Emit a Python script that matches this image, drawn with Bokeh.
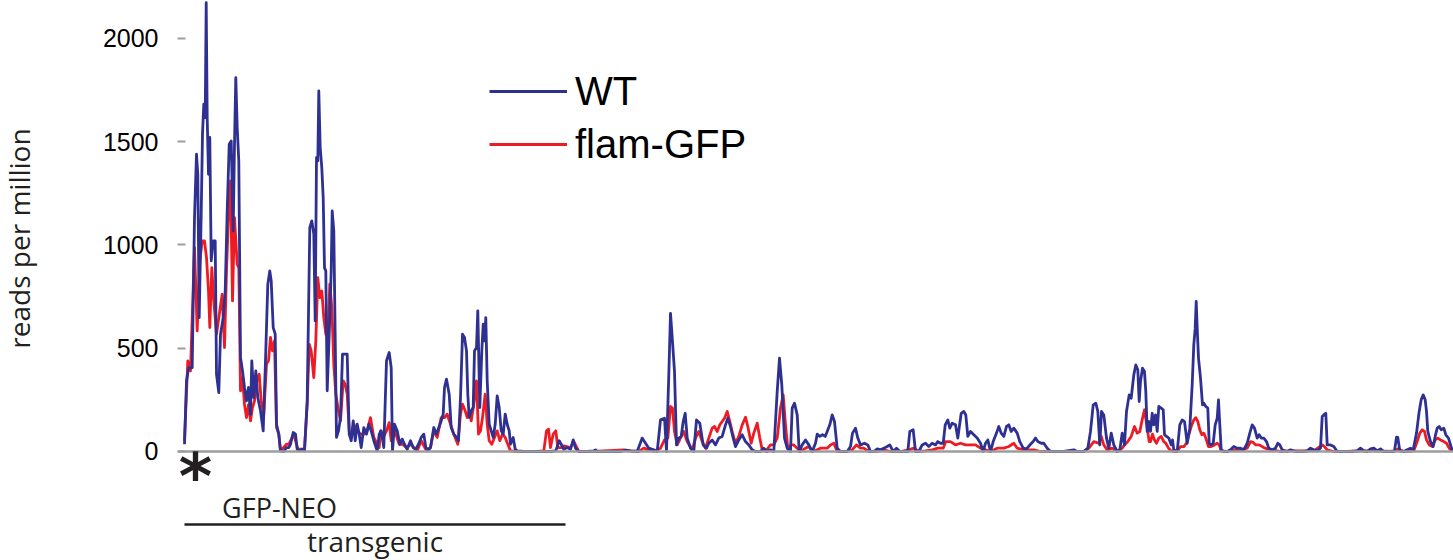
import math
from bokeh.plotting import figure
from bokeh.layouts import row
from bokeh.models import Range1d, FixedTicker, Span, Label, Legend, LegendItem, ColumnDataSource
from bokeh.embed import file_html
from bokeh.resources import INLINE

# ---------------- data ----------------
# position along the locus (bins) and reads per million
wt_pos = [
    0, 2, 4.3, 7.7, 10, 12, 13.3, 14.7, 16.7, 18,
    19.3, 20.7, 21.7, 22.7, 24, 25.3, 26.7, 28.7, 30.7, 32,
    34.3, 36, 38.7, 40.7, 42.7, 44.7, 46.7, 48.7, 50, 51.3,
    52.7, 54.3, 56, 58, 60, 62, 64, 66, 67.3, 69.3,
    71.3, 73.3, 76, 78.7, 81, 83.3, 85.3, 86.7, 88.7, 90.7,
    92, 94.3, 96, 99.3, 102, 104.3, 106, 108.7, 111, 112.7,
    115.3, 117.7, 120, 122.7, 124, 125.3, 127.3, 129.3, 130.7, 132,
    133.3, 134.3, 135.7, 137.3, 138.7, 140, 141.3, 142.7, 144.7, 146.7,
    147.7, 149.3, 150.7, 152, 154, 156, 158, 160.7, 162.7, 164.7,
    166.7, 168.7, 170.7, 172.7, 174.7, 176.7, 179.3, 182, 184.3, 186.7,
    189.3, 192.7, 194.7, 196.7, 199.3, 202, 204.7, 206.7, 208, 210,
    212.7, 215.3, 217.7, 220, 222.7, 226, 228.7, 231.3, 234, 236.7,
    239.3, 241.3, 243.3, 246, 249.3, 252, 254.3, 256.7, 258.7, 260,
    262, 264.7, 266.7, 269.3, 272, 274, 276, 278, 280, 282,
    283.3, 284.7, 286.7, 288.7, 290, 292, 293.3, 295.3, 297.3, 298.7,
    300, 301.3, 302.7, 304.7, 306.7, 308.7, 310.7, 312.7, 314.7, 316.7,
    318.7, 320.7, 322.7, 324.7, 326, 328.7, 330.7, 332.7, 339.3, 352.7,
    366, 371.3, 374.7, 376.7, 379.3, 382.7, 386, 388.7, 391, 394.3,
    402.7, 409.3, 411, 412.7, 426, 436, 441, 446, 452.7, 457.7,
    461, 464.3, 469.3, 472.7, 476, 480, 482, 484.3, 486, 488,
    490, 492, 494.3, 496.7, 498.7, 500.7, 502.7, 506, 509.3, 512,
    515.3, 518.7, 522, 524.3, 527.7, 531, 534.3, 537.7, 541, 543.3,
    546, 548.7, 551, 554.3, 557.7, 561, 564.3, 567.7, 571, 576,
    579.3, 582.7, 586, 589.3, 592.7, 595, 597.3, 600, 602.7, 606,
    607.7, 610, 612.7, 614.7, 617.7, 621, 624.3, 627.7, 631, 632.7,
    635.3, 638, 640.7, 642.7, 645.3, 647.7, 650, 652.7, 656, 662.7,
    666, 668, 671, 673.3, 676, 680, 683.3, 686, 689.3, 692.7,
    696, 699.3, 702.7, 705.3, 708.7, 712, 715.3, 723.3, 725.3, 728.7,
    731, 734.3, 737.7, 741, 744.3, 747.7, 751, 753.3, 756, 758.7,
    760.7, 763.3, 765.3, 767.7, 771, 773.3, 776.7, 779.3, 781.3, 783.3,
    786, 789.3, 792.7, 796, 798.7, 801, 803.3, 806, 808.7, 812,
    814.3, 816.7, 819.3, 822, 824.3, 826.7, 829.3, 832.7, 835.3, 838.7,
    842, 846, 848.7, 851, 853.3, 856.7, 859.3, 862.7, 866, 879.3,
    889.3, 892.7, 899.3, 903.3, 906, 908.7, 911.3, 913.3, 915.3, 917,
    919.3, 922, 924.3, 926.7, 929.3, 932.7, 935.3, 937.7, 940, 942,
    944.7, 946.7, 949.3, 951.3, 953.3, 954.7, 956, 958, 960, 961.3,
    962.7, 964.7, 966, 967.7, 969.3, 971, 972.7, 974.3, 976.7, 978.7,
    980, 982, 984.3, 986.7, 988, 989.3, 992.7, 995.3, 997.7, 1000,
    1002.7, 1005.3, 1007.7, 1009.3, 1010.7, 1011.7, 1012.7, 1014, 1016, 1018,
    1019.3, 1021.3, 1023.3, 1024.7, 1026.7, 1028.7, 1030.7, 1032.7, 1034, 1035.3,
    1036.7, 1039.3, 1042.7, 1046, 1049.3, 1052.7, 1056, 1059.3, 1062.7, 1065.3,
    1067.7, 1070, 1072.7, 1074.7, 1076.7, 1079.3, 1082, 1084.3, 1087.7, 1091,
    1093.3, 1095.3, 1097.7, 1102.7, 1106, 1109.3, 1112.7, 1119.3, 1122.7, 1126,
    1129.3, 1132.7, 1136, 1137.7, 1139.3, 1141.3, 1142.7, 1146, 1149.3, 1152.7,
    1166, 1172.7, 1176, 1179.3, 1182.7, 1186, 1189.3, 1192.7, 1196, 1199.3,
    1206, 1210, 1212, 1213.3, 1215.3, 1219.3, 1222.7, 1226, 1228.7, 1232,
    1234.7, 1236.7, 1238.7, 1240.7, 1242, 1243.3, 1246, 1248.7, 1250.7, 1252.7,
    1254.7, 1256.7, 1259.3, 1261.3, 1264, 1266, 1268,
]
wt_rpm = [
    35, 342, 406, 406, 1132, 1439, 1342, 648, 1148, 1536,
    1681, 1616, 2173, 1616, 1342, 1520, 923, 1019, 1019, 374,
    285, 568, 648, 777, 1164, 1487, 1503, 1068, 1487, 1810,
    1568, 1406, 455, 390, 310, 245, 310, 180, 439, 261,
    390, 261, 197, 100, 439, 810, 874, 826, 600, 568,
    132, 84, 3, 0, 19, 19, 35, 92, 84, 11,
    3, 11, 3, 245, 665, 1084, 1116, 1052, 632, 1423,
    1406, 1745, 1471, 1374, 1229, 890, 874, 294, 568, 874,
    1164, 1068, 552, 68, 100, 164, 471, 471, 471, 84,
    52, 148, 52, 132, 84, 19, 116, 84, 132, 100,
    52, 3, 84, 100, 19, 439, 479, 406, 3, 132,
    100, 35, 60, 35, 11, 52, 19, 11, 35, 68,
    84, 19, 3, 19, 116, 84, 116, 148, 181, 310,
    350, 277, 116, 84, 68, 52, 261, 568, 552, 487,
    277, 165, 197, 213, 487, 503, 681, 213, 487, 616,
    535, 648, 342, 132, 100, 68, 132, 269, 213, 100,
    84, 181, 132, 100, 35, 68, 11, 3, 0, 0,
    0, 3, 52, 35, 11, 19, 11, 56, 16, 0,
    0, 3, 8, 0, 0, 0, 6, 3, 0, 65,
    40, 16, 8, 0, 153, 161, 0, 371, 669, 532,
    387, 32, 65, 73, 145, 185, 65, 16, 0, 153,
    137, 32, 16, 40, 56, 32, 65, 73, 129, 161,
    121, 65, 24, 56, 81, 48, 32, 8, 0, 0,
    16, 0, 8, 0, 290, 452, 323, 65, 16, 0,
    210, 234, 177, 0, 32, 56, 32, 0, 40, 84,
    73, 81, 73, 97, 129, 177, 145, 16, 0, 0,
    24, 89, 113, 65, 32, 40, 32, 0, 0, 13,
    8, 16, 24, 32, 0, 16, 0, 0, 97, 105,
    0, 0, 32, 40, 24, 40, 32, 48, 40, 40,
    129, 153, 113, 137, 129, 65, 185, 194, 177, 73,
    97, 81, 65, 40, 0, 40, 56, 0, 48, 89,
    121, 89, 73, 121, 129, 97, 113, 89, 48, 16,
    13, 35, 48, 65, 48, 40, 40, 16, 0, 0,
    8, 0, 0, 16, 97, 226, 234, 194, 32, 194,
    177, 65, 16, 89, 32, 0, 8, 89, 32, 194,
    274, 258, 371, 419, 395, 242, 339, 403, 387, 290,
    97, 145, 97, 185, 129, 177, 97, 218, 210, 202,
    81, 73, 65, 32, 56, 8, 0, 129, 153, 145,
    40, 113, 323, 516, 597, 726, 597, 452, 355, 226,
    234, 218, 210, 40, 32, 40, 129, 161, 250, 129,
    8, 0, 0, 8, 24, 16, 16, 8, 40, 89,
    129, 113, 65, 81, 65, 65, 48, 16, 8, 16,
    40, 32, 8, 0, 8, 3, 0, 0, 3, 16,
    8, 3, 16, 169, 177, 185, 32, 32, 24, 0,
    0, 3, 16, 3, 0, 13, 16, 3, 13, 0,
    0, 3, 69, 68, 3, 0, 8, 16, 8, 89,
    194, 250, 274, 250, 194, 97, 48, 24, 73, 113,
    121, 105, 113, 81, 65, 32, 0,
]

flam_pos = [
    0, 3.3, 6, 10, 12.7, 15.3, 17.7, 20, 22, 24,
    25.3, 27.3, 29.3, 32, 35.3, 37.7, 40, 42, 44.3, 46,
    48, 50, 52.7, 54.3, 56, 58, 60, 62, 64, 66,
    68, 70, 72.7, 74.7, 76.7, 79.3, 82, 84, 86, 88,
    90, 92, 94.3, 96, 102, 104.3, 109.3, 113.3, 120, 122.7,
    124.7, 126.7, 129.3, 131.3, 133.3, 135.3, 137.3, 139.3, 141.3, 143.3,
    145.3, 147.3, 149.3, 151.3, 154, 156, 158.7, 160.7, 162.7, 164.7,
    166.7, 169.3, 172.7, 176, 179.3, 182.7, 186, 189.3, 194.7, 196,
    198.7, 202, 204.7, 206.7, 208.7, 211.3, 214.7, 218, 222, 226,
    229.3, 232.7, 236.7, 241.3, 246, 249.3, 252.7, 256.7, 260, 262.7,
    266, 269.3, 273.3, 276, 278, 280.7, 282.7, 284.7, 286.7, 289.3,
    292, 294, 296, 298, 300.7, 302.7, 304.7, 307.3, 310, 312.7,
    315.3, 318, 320.7, 323.3, 326, 332.7, 352.7, 359.3, 362, 364,
    366, 368.7, 371.3, 373.3, 376.7, 379.3, 386, 389.3, 394.3, 409.3,
    439.3, 446, 454.3, 459.3, 464.3, 469.3, 476, 480, 483.3, 486,
    488, 490, 492.7, 496, 499.3, 502.7, 507.7, 511, 514.3, 517.7,
    521, 524.3, 527.7, 530, 532.7, 535.3, 537.7, 540, 542.7, 545.3,
    548, 551, 554.3, 557.7, 561, 563.3, 566.7, 569.3, 572.7, 575.3,
    577.7, 581, 586, 589.3, 592.7, 596, 598.7, 601, 603.3, 606.7,
    609.3, 612.7, 616, 621, 624.3, 627.7, 632.7, 636, 639.3, 642.7,
    646, 649.3, 652.7, 662.7, 667.7, 672, 676, 679.3, 684.3, 692.7,
    699.3, 706, 716, 724.3, 729.3, 734.3, 741, 747.7, 753.3, 758.7,
    761.3, 766, 771, 776, 781, 786, 791, 796, 801, 806,
    812.7, 819.3, 824.3, 829.3, 832.7, 839.3, 849.3, 856, 899.3, 904.3,
    909.3, 914.3, 916.7, 919.3, 922.7, 927.7, 932.7, 937.7, 940, 943.3,
    946.7, 950, 952.7, 955.3, 958, 960, 962.7, 964.7, 966, 968,
    970, 972, 974.3, 976.7, 979.3, 981.3, 984, 986.7, 989.3, 992.7,
    996, 999.3, 1002, 1004.3, 1006.7, 1009.3, 1011.3, 1013.3, 1015.3, 1017.3,
    1019.3, 1021.3, 1024, 1026.7, 1030, 1032.7, 1034.7, 1036.7, 1042.7, 1049.3,
    1056, 1062.7, 1066, 1068.7, 1071.3, 1074.7, 1079.3, 1082.7, 1087.7, 1096,
    1106, 1129.3, 1137.7, 1140, 1142.7, 1149.3, 1162.7, 1176, 1189.3, 1209.3,
    1213.3, 1219.3, 1229.3, 1232.7, 1235.3, 1237.7, 1240, 1242, 1244.7, 1248,
    1250.7, 1253.3, 1256, 1259.3, 1262, 1264.7, 1268,
]
flam_rpm = [
    52, 439, 390, 987, 584, 923, 1019, 1019, 939, 777,
    600, 890, 729, 568, 681, 761, 503, 874, 1180, 1310,
    729, 1132, 906, 890, 294, 358, 227, 164, 227, 148,
    213, 245, 358, 374, 245, 181, 423, 439, 552, 487,
    535, 116, 84, 3, 35, 35, 84, 11, 11, 229,
    519, 487, 358, 535, 842, 745, 777, 648, 568, 552,
    810, 697, 423, 277, 197, 148, 342, 326, 277, 100,
    68, 132, 100, 84, 84, 100, 164, 68, 19, 100,
    68, 100, 140, 52, 124, 84, 35, 35, 19, 35,
    19, 3, 52, 11, 19, 100, 68, 164, 164, 181,
    132, 84, 35, 181, 229, 197, 164, 197, 148, 229,
    342, 84, 100, 164, 277, 132, 52, 35, 68, 100,
    52, 84, 68, 35, 3, 0, 0, 3, 100, 108,
    19, 84, 100, 19, 19, 27, 19, 48, 0, 0,
    8, 3, 0, 16, 8, 0, 16, 56, 65, 218,
    210, 97, 32, 65, 97, 48, 8, 65, 97, 48,
    16, 65, 113, 121, 97, 129, 145, 161, 194, 145,
    89, 40, 73, 129, 166, 121, 40, 89, 137, 65,
    8, 0, 32, 32, 65, 210, 274, 129, 16, 32,
    32, 16, 0, 16, 24, 0, 8, 16, 16, 16,
    32, 40, 0, 0, 8, 32, 16, 16, 0, 0,
    8, 0, 0, 8, 16, 0, 3, 8, 16, 16,
    48, 48, 32, 40, 32, 32, 32, 16, 8, 0,
    16, 16, 24, 40, 16, 8, 8, 0, 0, 16,
    48, 40, 73, 32, 8, 16, 0, 16, 32, 48,
    73, 121, 89, 97, 161, 202, 113, 48, 48, 84,
    56, 40, 65, 73, 48, 40, 16, 3, 0, 0,
    24, 24, 40, 81, 121, 153, 164, 145, 105, 81,
    89, 65, 24, 24, 32, 40, 32, 3, 0, 8,
    8, 16, 48, 44, 32, 32, 19, 13, 8, 0,
    3, 3, 32, 24, 8, 0, 0, 3, 3, 0,
    13, 0, 3, 48, 89, 105, 97, 56, 32, 24,
    56, 65, 56, 48, 40, 16, 0,
]

y_ticks = [0, 500, 1000, 1500, 2000]
series_labels = ["WT", "flam-GFP"]
transgenic_start = [0]
transgenic_end = [381]
gfp_neo_center = 95
asterisk_at = 11

assert len(wt_pos) == len(wt_rpm), (len(wt_pos), len(wt_rpm))
assert len(flam_pos) == len(flam_rpm), (len(flam_pos), len(flam_rpm))

text_color = "#231f20"
TITLE_W = 60

# ---------------- narrow strip carrying the y-axis title ----------------
t = figure(width=TITLE_W, height=560, output_backend="svg", toolbar_location=None,
           x_range=Range1d(0, TITLE_W), y_range=Range1d(0, 560),
           x_axis_location=None, y_axis_location=None,
           min_border_left=0, min_border_right=0, min_border_top=0, min_border_bottom=0)
t.outline_line_color = None
t.grid.visible = False
t.background_fill_color = "white"
t.border_fill_color = "white"
t.add_layout(Label(x=18, y=322, text="reads per million", angle=math.pi / 2,
                   text_align="center", text_baseline="alphabetic", text_font="Open Sans",
                   text_font_size="28px", text_color=text_color))

# ---------------- main track ----------------
p = figure(width=1453 - TITLE_W, height=560, output_backend="svg", toolbar_location=None,
           x_range=Range1d(-7, 1269), y_range=Range1d(-527.6, 2183),
           x_axis_location=None,
           min_border_left=177 - TITLE_W, min_border_right=0, min_border_top=0, min_border_bottom=0)
p.outline_line_color = None
p.grid.visible = False
p.background_fill_color = "white"
p.border_fill_color = "white"

ax = p.yaxis[0]
ax.ticker = FixedTicker(ticks=y_ticks)
ax.axis_line_color = None
ax.major_tick_in = 8
ax.major_tick_out = 0
ax.major_tick_line_color = "#9d9d9d"
ax.major_tick_line_width = 2
ax.minor_tick_line_color = None
ax.major_label_text_font = "Liberation Sans"
ax.major_label_text_font_size = "25px"
ax.major_label_text_color = "#000000"
ax.major_label_standoff = 19

baseline = Span(location=0, dimension="width", line_color="#9d9d9d", line_width=2.5)
p.add_layout(baseline)

flam_src = ColumnDataSource(dict(x=flam_pos, y=flam_rpm))
wt_src = ColumnDataSource(dict(x=wt_pos, y=wt_rpm))
r_flam = p.line("x", "y", source=flam_src, line_color="#ed1c24", line_width=2.8, line_join="round")
r_wt = p.line("x", "y", source=wt_src, line_color="#2e3192", line_width=2.8, line_join="round")

legend = Legend(items=[LegendItem(label=series_labels[0], renderers=[r_wt]),
                       LegendItem(label=series_labels[1], renderers=[r_flam])],
                location=(312, 393), glyph_width=78, glyph_height=46, label_height=46,
                spacing=7, padding=0, margin=0, label_standoff=8,
                label_text_font="Liberation Sans", label_text_font_size="40px",
                label_text_color="#000000",
                border_line_color=None, background_fill_alpha=0)
p.add_layout(legend)

# annotation beneath the track: transgenic region
p.segment(x0=transgenic_start, y0=[-353], x1=transgenic_end, y1=[-353],
          line_color=text_color, line_width=2.5)
p.add_layout(Label(x=gfp_neo_center, y=-272, text="GFP-NEO", text_align="center",
                   text_baseline="alphabetic", text_font="Open Sans", text_font_size="27px",
                   text_color=text_color))
p.add_layout(Label(x=(transgenic_start[0] + transgenic_end[0]) / 2, y=-432, text="transgenic",
                   text_align="center", text_baseline="alphabetic", text_font="Open Sans",
                   text_font_size="28px", text_color=text_color))
p.add_layout(Label(x=asterisk_at, y=-122, text="*", text_align="center", text_baseline="middle",
                   text_font="DejaVu Sans", text_font_style="bold", text_font_size="64px",
                   text_color=text_color))

layout = row(t, p, spacing=0)
open("out.html", "w").write(file_html(layout, INLINE))
